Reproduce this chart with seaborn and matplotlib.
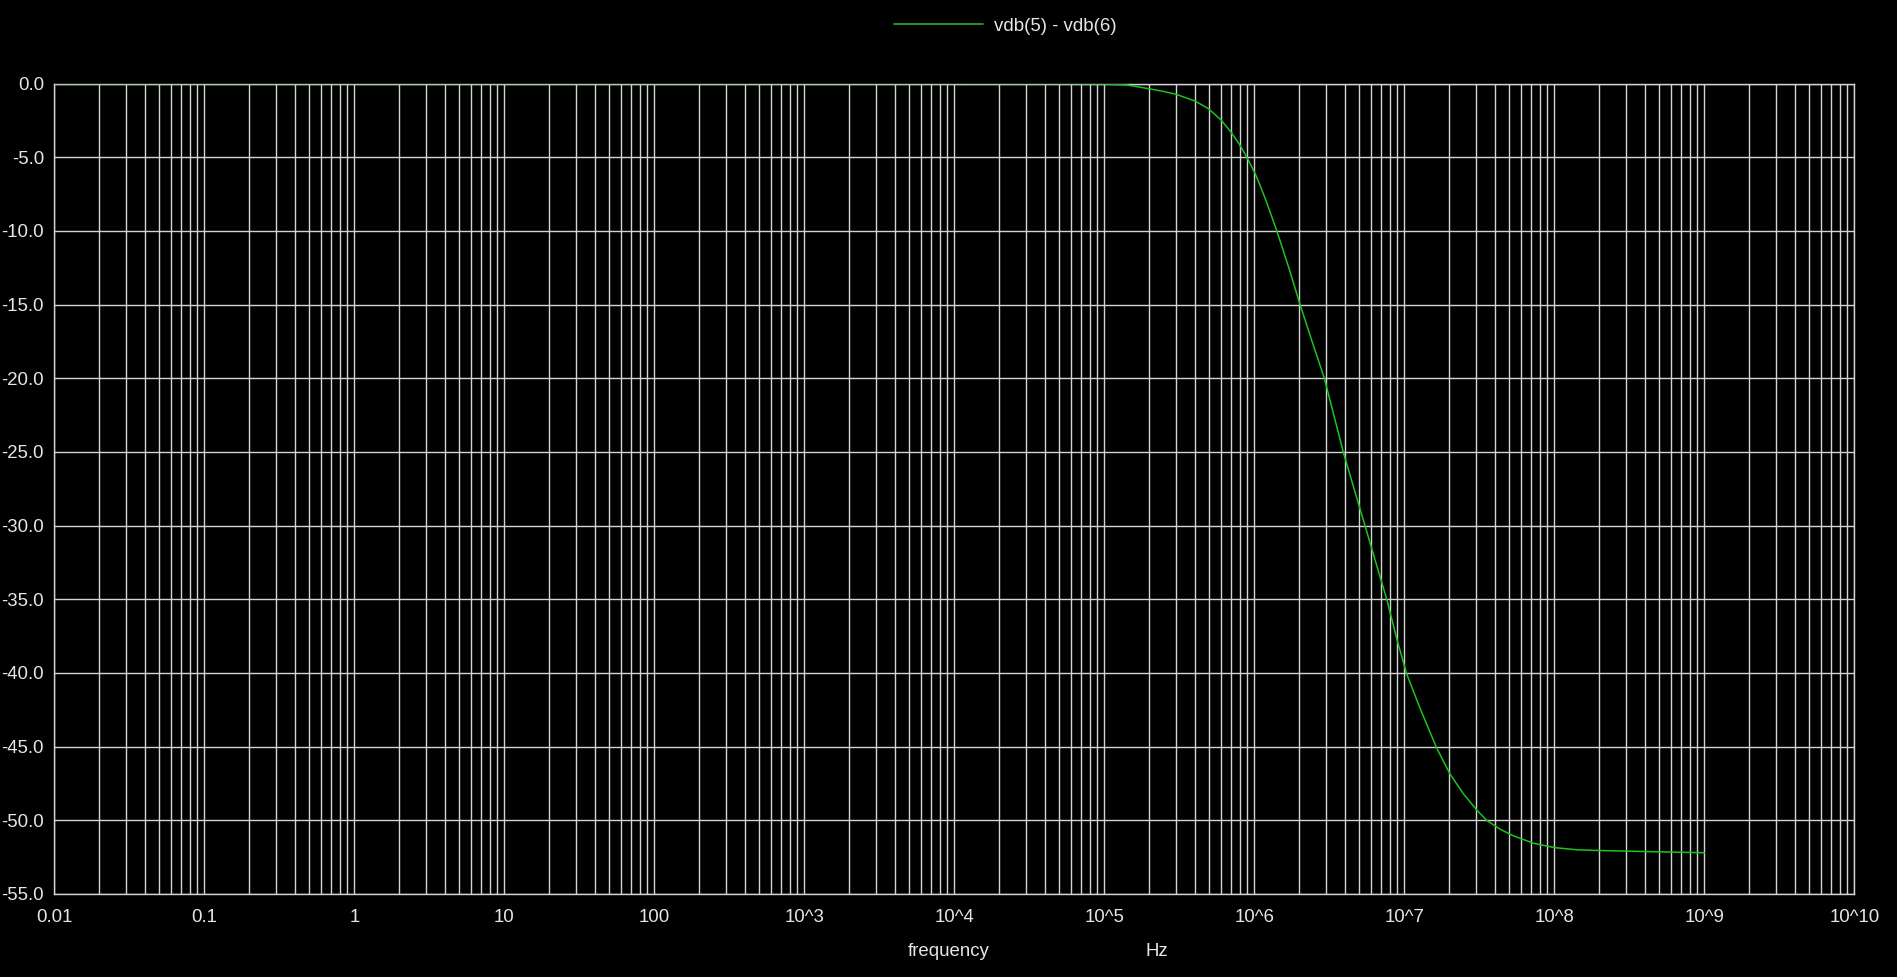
import numpy as np
import pandas as pd
import matplotlib
matplotlib.use("Agg")
import matplotlib.pyplot as plt
import seaborn as sns
from matplotlib.ticker import FixedLocator, NullFormatter

# values (log10 of frequency, dB)
log_freq = [-2.0, 0.0, 2.0, 4.0, 4.6, 4.8, 5.0, 5.149, 5.301, 5.39, 5.478, 5.605,
            5.693, 5.776, 5.845, 5.905, 5.95, 6.005, 6.038, 6.08, 6.15, 6.23,
            6.305, 6.385, 6.467, 6.53, 6.593, 6.665, 6.738, 6.81, 6.883, 6.953,
            7.016, 7.105, 7.216, 7.305, 7.394, 7.483, 7.549, 7.638, 7.727, 7.86,
            8.0, 8.15, 8.3, 8.53, 8.75, 9.0]
gain_db = [0.0, 0.0, 0.0, 0.0, -0.005, -0.01, -0.03, -0.1, -0.36, -0.53, -0.73, -1.19,
           -1.7, -2.45, -3.3, -4.2, -5.0, -6.1, -6.9, -8.0, -10.0, -12.5,
           -15.0, -17.5, -20.0, -22.5, -25.0, -27.5, -30.0, -32.5, -35.0, -37.8,
           -40.07, -42.4, -45.1, -46.86, -48.2, -49.3, -50.0, -50.6, -51.05, -51.55,
           -51.85, -52.0, -52.05, -52.1, -52.15, -52.2]
series_name = "vdb(5) - vdb(6)"

x_tick_vals = [10.0 ** k for k in range(-2, 11)]
x_tick_labels = ["0.01", "0.1", "1", "10", "100", "10^3", "10^4", "10^5",
                 "10^6", "10^7", "10^8", "10^9", "10^10"]
y_tick_vals = [0.0, -5.0, -10.0, -15.0, -20.0, -25.0, -30.0, -35.0, -40.0,
               -45.0, -50.0, -55.0]

df = pd.DataFrame({"frequency": [10.0 ** v for v in log_freq], "gain": gain_db,
                   "trace": series_name})

sns.set_theme(style="dark")
plt.rcParams["font.family"] = ["Liberation Sans", "DejaVu Sans"]
plt.rcParams["axes.unicode_minus"] = False

TXT = "#e6e6e6"
GRID = "#d4d4d4"
FS = 13.4

fig = plt.figure(figsize=(18.97, 9.77), dpi=100, facecolor="black")
ax = fig.add_axes([54.3 / 1897, 1 - 894 / 977, 1800 / 1897, (894 - 83.5) / 977])
ax.set_facecolor("black")

sns.lineplot(data=df, x="frequency", y="gain", hue="trace",
             palette={series_name: "#1ec21e"}, linewidth=1.1, ax=ax,
             legend=False, zorder=3)

ax.set_xscale("log")
ax.set_xlim(1e-2, 1e10)
ax.set_ylim(-55, 0)

# minor decades 2..9 drawn as grid too
minors = [m * 10.0 ** k for k in range(-2, 10) for m in range(2, 10)]
ax.xaxis.set_major_locator(FixedLocator(x_tick_vals))
ax.xaxis.set_minor_locator(FixedLocator(minors))
ax.xaxis.set_minor_formatter(NullFormatter())
ax.set_xticklabels(x_tick_labels)
ax.set_yticks(y_tick_vals)
ax.set_yticklabels([f"{v:.1f}" for v in y_tick_vals])

ax.grid(True, which="both", axis="x", color=GRID, linewidth=1.0)
ax.grid(True, which="major", axis="y", color=GRID, linewidth=1.0)
ax.tick_params(axis="both", which="both", length=0, colors=TXT, labelsize=FS)
ax.tick_params(axis="x", pad=11)
ax.tick_params(axis="y", pad=7.5)
for s in ax.spines.values():
    s.set_color(GRID)
    s.set_linewidth(1.0)
    s.set_visible(True)

ax.set_xlabel("")
ax.set_ylabel("")
fig.text(949 / 1897, 1 - 951 / 977, "frequency", color=TXT, fontsize=FS,
         ha="center", va="center")
fig.text(1157 / 1897, 1 - 951 / 977, "Hz", color=TXT, fontsize=FS,
         ha="center", va="center")

# legend strip at the top
leg_line = plt.Line2D([], [], color="#2aa12a", linewidth=1.3)
fig.legend([leg_line], [series_name], loc="center left",
           bbox_to_anchor=(894 / 1897, 1 - 26 / 977), frameon=False,
           borderpad=0, borderaxespad=0, handlelength=4.8, handletextpad=0.55,
           fontsize=FS, labelcolor=TXT)

fig.savefig("out.png", dpi=100, facecolor="black")
